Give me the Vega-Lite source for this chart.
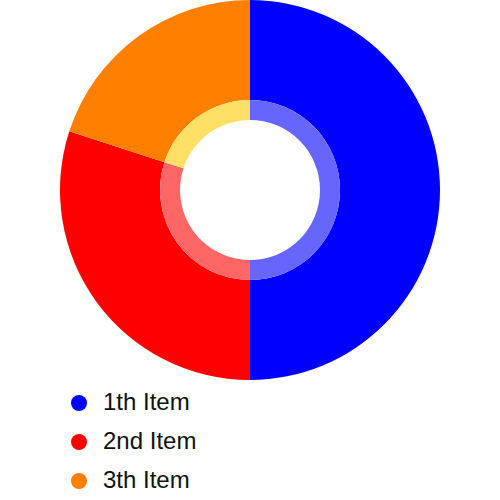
{
  "$schema": "https://vega.github.io/schema/vega-lite/v6.json",
  "width": 500,
  "height": 380,
  "autosize": {"type": "pad"},
  "padding": 0,
  "background": "white",
  "view": {"stroke": null},
  "data": {
    "values": [
      {"item": "1th Item", "value": 50, "light": "#6666FF"},
      {"item": "2nd Item", "value": 30, "light": "#FF6666"},
      {"item": "3th Item", "value": 20, "light": "#FFE066"}
    ]
  },
  "layer": [
    {
      "mark": {"type": "arc", "radius": 190, "radius2": 90},
      "encoding": {
        "theta": {"field": "value", "type": "quantitative", "stack": true},
        "order": {"field": "item", "type": "nominal"},
        "color": {
          "field": "item",
          "type": "nominal",
          "scale": {
            "domain": ["1th Item", "2nd Item", "3th Item"],
            "range": ["#0000FF", "#FF0000", "#FF8000"]
          },
          "legend": {
            "orient": "none",
            "legendX": 67,
            "legendY": 391,
            "title": null,
            "symbolType": "circle",
            "symbolSize": 256,
            "symbolStrokeWidth": 0,
            "labelFont": "Liberation Sans",
            "labelFontSize": 24,
            "labelColor": "#111111",
            "labelOffset": 12,
            "rowPadding": 15
          }
        }
      }
    },
    {
      "mark": {"type": "arc", "radius": 90, "radius2": 70},
      "encoding": {
        "theta": {"field": "value", "type": "quantitative", "stack": true},
        "order": {"field": "item", "type": "nominal"},
        "color": {"field": "light", "type": "nominal", "scale": null, "legend": null}
      }
    }
  ],
  "resolve": {"scale": {"color": "independent"}}
}
